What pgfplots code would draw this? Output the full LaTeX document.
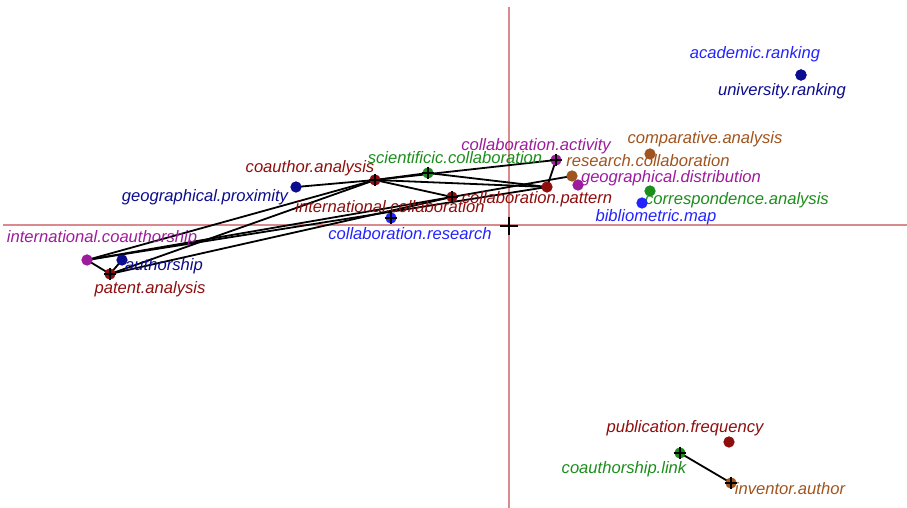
\documentclass[border=0pt]{standalone}
\usepackage{fontspec}
\setmainfont{Liberation Sans}
\usepackage{pgfplots}
\pgfplotsset{compat=1.18}
\definecolor{cBlue}{HTML}{2323FF}
\definecolor{cNavy}{HTML}{0C0C8E}
\definecolor{cRed}{HTML}{8E0E0E}
\definecolor{cBrown}{HTML}{A0541E}
\definecolor{cPurple}{HTML}{9C1C9C}
\definecolor{cGreen}{HTML}{1C8E1C}
\definecolor{cPink}{HTML}{D98A8F}
\tikzset{lbl/.style={font=\fontsize{8.3}{9}\selectfont\itshape, inner sep=0pt}}
\begin{document}
\begin{tikzpicture}
\begin{axis}[name=ax,
  scale only axis, width=453.5pt, height=254pt,
  xmin=-509, xmax=398, ymin=-282, ymax=226,
  hide axis, clip=false,
]
% axis lines
\addplot[cPink, line width=1pt] coordinates {(-506,1) (398,1)};
\addplot[cPink, line width=1pt] coordinates {(0,219) (0,-282)};
% edges
\pgfplotsset{edge/.style={black, line width=0.9pt, mark=none}}
\addplot[edge] coordinates {(-213,39) (-134,46)};
\addplot[edge] coordinates {(-134,46) (-81,53)};
\addplot[edge] coordinates {(-134,46) (-57,29)};
\addplot[edge] coordinates {(-134,46) (38,39)};
\addplot[edge] coordinates {(-81,53) (38,39)};
\addplot[edge] coordinates {(-134,46) (47,66)};
\addplot[edge] coordinates {(47,66) (38,39)};
\addplot[edge] coordinates {(-57,29) (63,50)};
\addplot[edge] coordinates {(-422,-34) (-399,-48)};
\addplot[edge] coordinates {(-387,-34) (-399,-48)};
\addplot[edge] coordinates {(-422,-34) (-134,46)};
\addplot[edge] coordinates {(-422,-34) (-57,29)};
\addplot[edge] coordinates {(-422,-34) (38,39)};
\addplot[edge] coordinates {(-399,-48) (-134,46)};
\addplot[edge] coordinates {(-399,-48) (-57,29)};
\addplot[edge] coordinates {(171,-227) (222,-257)};
% points
\pgfplotsset{pt/.style={only marks, mark=*, mark size=2.6pt}}
\addplot[pt, cBlue, mark options={fill=cBlue}] coordinates {(292,151) (133,23) (-118,8)};
\addplot[pt, cNavy, mark options={fill=cNavy}] coordinates {(292,151) (-213,39) (-387,-34)};
\addplot[pt, cRed, mark options={fill=cRed}] coordinates {(38,39) (-134,46) (-57,29) (-399,-48) (220,-216)};
\addplot[pt, cBrown, mark options={fill=cBrown}] coordinates {(141,72) (63,50) (222,-257)};
\addplot[pt, cPurple, mark options={fill=cPurple}] coordinates {(69,41) (47,66) (-422,-34)};
\addplot[pt, cGreen, mark options={fill=cGreen}] coordinates {(141,35) (-81,53) (171,-227)};
% crosses
\addplot[only marks, mark=+, mark size=3.2pt, black, line width=0.7pt] coordinates {(47,66) (-81,53) (-134,46) (-57,29) (-118,8) (-399,-48) (171,-227) (222,-257)};
\addplot[only marks, mark=+, mark size=4.6pt, black, line width=1pt] coordinates {(0,0)};
% labels
\node[lbl, text=cBlue] at (axis cs:246,172) {academic.ranking};
\node[lbl, text=cNavy] at (axis cs:273,135) {university.ranking};
\node[lbl, text=cBrown] at (axis cs:196,87) {comparative.analysis};
\node[lbl, text=cBrown] at (axis cs:139,65) {research.collaboration};
\node[lbl, text=cPurple] at (axis cs:162,48) {geographical.distribution};
\node[lbl, text=cGreen] at (axis cs:228,26) {correspondence.analysis};
\node[lbl, text=cBlue] at (axis cs:147,9) {bibliometric.map};
\node[lbl, text=cPurple] at (axis cs:27,80) {collaboration.activity};
\node[lbl, text=cRed] at (axis cs:28,27) {collaboration.pattern};
\node[lbl, text=cGreen] at (axis cs:-54,68) {scientificic.collaboration};
\node[lbl, text=cRed] at (axis cs:-199,58) {coauthor.analysis};
\node[lbl, text=cRed] at (axis cs:-119,19) {international.collaboration};
\node[lbl, text=cBlue] at (axis cs:-99,-8) {collaboration.research};
\node[lbl, text=cNavy] at (axis cs:-304,29) {geographical.proximity};
\node[lbl, text=cPurple] at (axis cs:-407,-12) {international.coauthorship};
\node[lbl, text=cNavy] at (axis cs:-345,-40) {authorship};
\node[lbl, text=cRed] at (axis cs:-359,-63) {patent.analysis};
\node[lbl, text=cRed] at (axis cs:176,-202) {publication.frequency};
\node[lbl, text=cGreen] at (axis cs:115,-243) {coauthorship.link};
\node[lbl, text=cBrown] at (axis cs:281,-263) {inventor.author};
\end{axis}
\pgfresetboundingbox
\useasboundingbox (ax.south west) rectangle (ax.north east);
\end{tikzpicture}
\end{document}
